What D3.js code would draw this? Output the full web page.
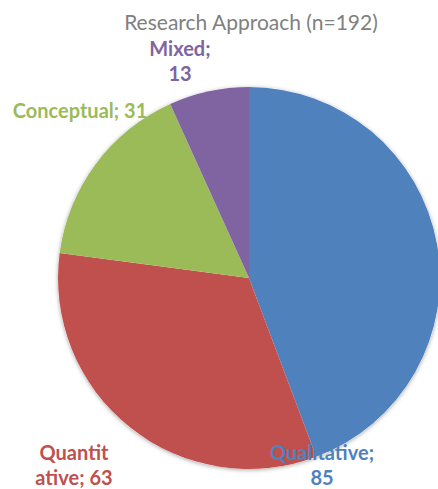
<!DOCTYPE html>
<html>
<head>
<meta charset="utf-8">
<script src="https://cdn.jsdelivr.net/npm/d3@7"></script>
<style>
  body { margin: 0; background: #fff; }
  svg { display: block; }
</style>
</head>
<body>
<div id="chart"></div>
<script>
// data
const categories = ["Qualitative", "Quantitative", "Conceptual", "Mixed"];
const values = [85, 63, 31, 13];
const labelLines = [["Qualitative;", "85"], ["Quantit", "ative; 63"], ["Conceptual; 31"], ["Mixed;", "13"]];
const colors = ["#4F81BD", "#C0504D", "#9BBB59", "#8064A2"];
const title = "Research Approach (n=192)";

const width = 438, height = 489;
const cx = 249, cy = 278, radius = 191;

const svg = d3.select("#chart").append("svg")
  .attr("width", width)
  .attr("height", height);

// soft shadow round the pie
const defs = svg.append("defs");
const f = defs.append("filter").attr("id", "shadow")
  .attr("x", "-10%").attr("y", "-10%").attr("width", "120%").attr("height", "120%");
f.append("feGaussianBlur").attr("in", "SourceAlpha").attr("stdDeviation", 2);
f.append("feOffset").attr("dx", 0).attr("dy", 1).attr("result", "blur");
f.append("feFlood").attr("flood-color", "#000").attr("flood-opacity", 0.35);
f.append("feComposite").attr("in2", "blur").attr("operator", "in");
const merge = f.append("feMerge");
merge.append("feMergeNode");
merge.append("feMergeNode").attr("in", "SourceGraphic");

const data = categories.map((c, i) => ({ cat: c, value: values[i], lines: labelLines[i], color: colors[i] }));

const pie = d3.pie().sort(null).value(d => d.value);
const arc = d3.arc().innerRadius(0).outerRadius(radius);

const g = svg.append("g").attr("transform", `translate(${cx},${cy})`);
g.append("circle").attr("r", radius).attr("fill", "#fff").attr("filter", "url(#shadow)");
g.selectAll("path")
  .data(pie(data))
  .enter()
  .append("path")
  .attr("d", arc)
  .attr("fill", d => d.data.color);

// title
svg.append("text")
  .attr("x", 251)
  .attr("y", 30)
  .attr("text-anchor", "middle")
  .attr("font-family", "Lato, 'Open Sans', sans-serif")
  .attr("font-size", "21px")
  .attr("fill", "#808080")
  .text(title);

// label positions (centre x, first baseline)
const labelPos = [[322, 460], [74, 460], [80, 118], [180, 56]];
const labels = svg.selectAll(".lbl")
  .data(data)
  .enter()
  .append("text")
  .attr("class", "lbl")
  .attr("text-anchor", "middle")
  .attr("font-family", "Lato, 'Open Sans', sans-serif")
  .attr("font-weight", "bold")
  .attr("font-size", "20px")
  .attr("fill", d => d.color);
labels.each(function (d, i) {
  d3.select(this).selectAll("tspan")
    .data(d.lines)
    .enter()
    .append("tspan")
    .attr("x", labelPos[i][0])
    .attr("y", (t, j) => labelPos[i][1] + j * 25)
    .text(t => t);
});
</script>
</body>
</html>
